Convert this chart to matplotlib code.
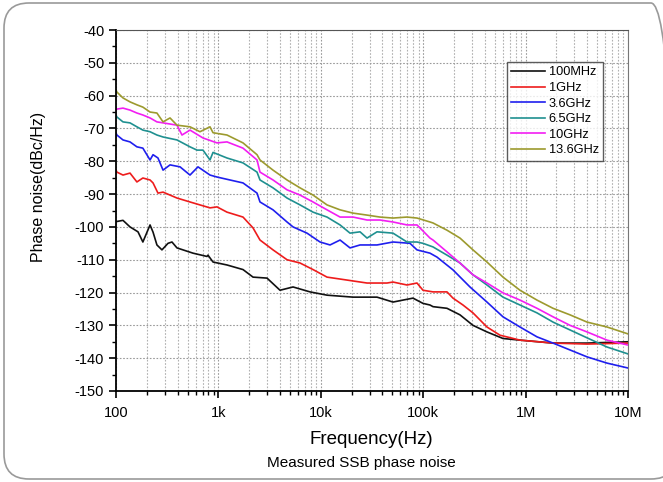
import matplotlib
matplotlib.use("Agg")
import matplotlib.pyplot as plt
from matplotlib.patches import FancyBboxPatch
from matplotlib.ticker import FixedLocator, FuncFormatter, LogLocator, NullFormatter, MultipleLocator

plt.rcParams["font.family"] = ["Liberation Sans", "DejaVu Sans"]
plt.rcParams["axes.unicode_minus"] = False

# ---- data (offset frequency in Hz, phase noise in dBc/Hz) ----
f_100m = [100, 117, 137, 164, 183, 215, 230, 251, 281, 322, 352, 394, 565, 774, 791, 886,
          1213, 1739, 2178, 2984, 3997, 5355, 7851, 11502, 20646, 35395, 50690, 79452,
          99500, 116500, 124700, 170700, 228700, 306300, 419500, 601600, 881600,
          1.853e6, 3.981e6, 1e7]
pn_100m = [-98.4, -98.0, -100.0, -101.5, -104.6, -99.4, -101.6, -105.5, -107.0, -105.0,
           -104.6, -106.4, -108.0, -109.0, -108.6, -110.7, -111.6, -113.0, -115.3, -115.6,
           -119.3, -118.3, -119.8, -120.8, -121.4, -121.4, -122.9, -121.7, -123.3, -123.8,
           -124.3, -124.8, -126.8, -130.0, -132.0, -134.0, -134.5, -135.4, -135.4, -135.0]

f_1g = [100, 102, 117, 137, 160, 183, 215, 230, 257, 288, 394, 528, 661, 828, 969, 1213,
        1739, 2178, 2548, 3415, 4679, 6268, 8395, 11502, 18045, 28279, 44285, 50690,
        69472, 86963, 99500, 124700, 170700, 195400, 244600, 306300, 419500, 562300,
        881600, 1.853e6, 3.981e6, 1e7]
pn_1g = [-82.7, -83.3, -84.2, -83.6, -86.3, -85.1, -85.7, -86.6, -89.7, -89.4, -91.2,
         -92.4, -93.3, -94.2, -93.9, -95.5, -97.0, -100.3, -104.0, -107.0, -110.0, -111.0,
         -113.0, -115.3, -116.2, -117.1, -117.1, -116.8, -117.7, -117.1, -119.3, -119.8,
         -119.8, -121.7, -123.8, -126.2, -130.5, -133.0, -134.5, -135.4, -135.7, -135.4]

f_3g6 = [100, 102, 117, 137, 160, 183, 215, 230, 257, 288, 337, 422, 528, 632, 828, 969,
         1297, 1739, 2383, 2548, 3415, 4679, 5355, 7337, 9827, 12307, 15418, 19296, 24163,
         35395, 50690, 74314, 86963, 116500, 136400, 195400, 286300, 419500, 601600,
         881600, 1.292e6, 1.853e6, 2.716e6, 3.981e6, 6.238e6, 1e7]
pn_3g6 = [-71.4, -72.0, -73.5, -74.1, -75.6, -76.0, -79.6, -78.0, -79.0, -82.7, -81.1,
          -81.7, -84.2, -81.7, -84.2, -84.8, -85.7, -86.6, -89.7, -92.4, -94.8, -98.5,
          -100.0, -101.9, -104.6, -105.5, -104.0, -106.4, -105.5, -105.5, -104.6, -105.0,
          -107.0, -108.0, -109.2, -113.1, -118.3, -122.9, -127.4, -130.5, -133.5, -135.4,
          -137.5, -139.6, -141.5, -143.0]

f_6g5 = [100, 102, 117, 137, 160, 183, 215, 251, 288, 394, 528, 618, 707, 828, 886, 1213,
         1739, 2383, 2548, 3415, 4679, 6268, 8395, 11502, 15418, 19296, 24163, 28279,
         35395, 50690, 69472, 86963, 99500, 124700, 170700, 228700, 306300, 419500,
         601600, 881600, 1.292e6, 1.853e6, 2.716e6, 3.981e6, 6.238e6, 1e7]
pn_6g5 = [-65.9, -66.5, -68.0, -68.3, -69.5, -70.5, -71.0, -72.0, -72.6, -73.5, -75.6,
          -76.6, -76.6, -79.6, -77.3, -79.0, -80.5, -83.3, -85.7, -88.1, -91.2, -93.3,
          -95.5, -97.0, -99.4, -101.9, -101.5, -103.4, -101.5, -101.9, -104.6, -104.6,
          -105.0, -106.1, -108.6, -111.0, -114.6, -117.7, -121.4, -123.8, -126.2, -129.0,
          -131.4, -133.8, -136.6, -138.7]

f_10g = [100, 102, 117, 137, 160, 183, 215, 251, 288, 394, 441, 528, 707, 969, 1213, 1739,
         2383, 2548, 3415, 4679, 6268, 8395, 11502, 15418, 20646, 28279, 37852, 50690,
         69472, 86963, 116500, 124700, 170700, 228700, 306300, 419500, 601600, 881600,
         1.292e6, 1.853e6, 2.716e6, 3.981e6, 6.238e6, 1e7]
pn_10g = [-64.4, -64.1, -63.8, -64.4, -65.3, -65.9, -66.8, -68.0, -68.3, -69.0, -72.0,
          -70.5, -72.9, -74.4, -74.1, -76.0, -79.6, -83.3, -85.7, -88.7, -90.3, -92.4,
          -94.8, -97.0, -97.0, -97.9, -97.9, -98.5, -99.4, -99.4, -103.4, -104.0, -107.6,
          -111.0, -114.6, -117.1, -120.1, -122.3, -124.8, -127.4, -130.0, -132.0, -134.5,
          -136.0]

f_13g6 = [100, 102, 117, 137, 160, 183, 215, 251, 288, 337, 394, 528, 661, 828, 886, 1213,
          1739, 2383, 2548, 3415, 4679, 6268, 8395, 11502, 15418, 20646, 28279, 37852,
          50690, 69472, 86963, 116500, 124700, 170700, 228700, 306300, 419500, 601600,
          881600, 1.292e6, 1.853e6, 2.716e6, 3.981e6, 6.238e6, 1e7]
pn_13g6 = [-58.3, -58.9, -60.7, -61.9, -62.8, -63.5, -65.0, -65.3, -68.0, -66.8, -69.0,
           -69.5, -71.0, -69.5, -71.3, -72.0, -74.4, -78.0, -79.6, -82.7, -85.7, -88.1,
           -90.3, -93.3, -94.8, -95.8, -96.4, -97.0, -97.3, -97.0, -97.3, -98.5, -98.8,
           -101.0, -103.4, -107.0, -110.7, -115.3, -119.3, -122.3, -124.8, -126.8, -129.0,
           -130.5, -132.6]

labels = ["100MHz", "1GHz", "3.6GHz", "6.5GHz", "10GHz", "13.6GHz"]
colors = ["#111111", "#ee1c1c", "#1f1fee", "#1f9090", "#f21ef2", "#9c9a2e"]

x_ticks = [1e2, 1e3, 1e4, 1e5, 1e6, 1e7]
x_tick_labels = ["100", "1k", "10k", "100k", "1M", "10M"]

# ---- figure ----
fig = plt.figure(figsize=(6.63, 4.82), dpi=100)

# rounded slide frame around the chart (inches), right edge runs off the image
frame = FancyBboxPatch((0.04, 0.03), 6.72, 4.76, boxstyle="round,pad=0,rounding_size=0.25",
                       transform=fig.dpi_scale_trans, facecolor="none", edgecolor="#9a9a9a",
                       linewidth=1.2)
fig.patches.append(frame)

ax = fig.add_axes([116 / 663, 1 - 391 / 482, (628 - 116) / 663, (391 - 30) / 482])

series = [(f_100m, pn_100m), (f_1g, pn_1g), (f_3g6, pn_3g6),
          (f_6g5, pn_6g5), (f_10g, pn_10g), (f_13g6, pn_13g6)]
for (f, pn), lab, col in zip(series, labels, colors):
    ax.plot(f, pn, color=col, linewidth=1.2, label=lab)

ax.set_xscale("log")
ax.set_xlim(1e2, 1e7)
ax.set_ylim(-150, -40)

ax.xaxis.set_major_locator(FixedLocator(x_ticks))
ax.xaxis.set_major_formatter(FuncFormatter(lambda v, p: x_tick_labels[x_ticks.index(v)] if v in x_ticks else ""))
ax.xaxis.set_minor_locator(LogLocator(base=10, subs=range(2, 10)))
ax.xaxis.set_minor_formatter(NullFormatter())
ax.yaxis.set_major_locator(MultipleLocator(10))
ax.yaxis.set_minor_locator(MultipleLocator(5))

ax.grid(True, which="major", axis="both", linestyle=(0, (1.5, 1.5)), color="#9a9a9a", linewidth=0.8)
ax.grid(True, which="minor", axis="x", linestyle=(0, (1.5, 1.5)), color="#b0b0b0", linewidth=0.8)

ax.tick_params(which="major", direction="out", length=5, width=1.2, labelsize=10.5)
ax.tick_params(which="minor", direction="out", length=3, width=1.0)
ax.tick_params(axis="x", pad=6)
ax.tick_params(top=False, right=False)

for side in ["left", "bottom"]:
    ax.spines[side].set_linewidth(1.3)
ax.spines["top"].set_color("#555555")
ax.spines["right"].set_color("#777777")

ax.set_ylabel("Phase noise(dBc/Hz)", fontsize=11.5)
ax.yaxis.set_label_coords((46 - 116) / 512, (391 - 187) / 361)
fig.text(371 / 663, 1 - 439 / 482, "Frequency(Hz)", ha="center", va="center", fontsize=13.5)
fig.text(361 / 663, 1 - 463 / 482, "Measured SSB phase noise", ha="center", va="center", fontsize=11)

leg = ax.legend(loc="upper left", bbox_to_anchor=((507 - 116) / 512, 1 - (62 - 30) / 361),
                fontsize=9.2, frameon=True, fancybox=False, edgecolor="#333333",
                handlelength=2.6, handletextpad=0.3, labelspacing=0.28, borderpad=0.35,
                borderaxespad=0)
leg.get_frame().set_linewidth(1.0)

fig.savefig("out.png", dpi=100)
